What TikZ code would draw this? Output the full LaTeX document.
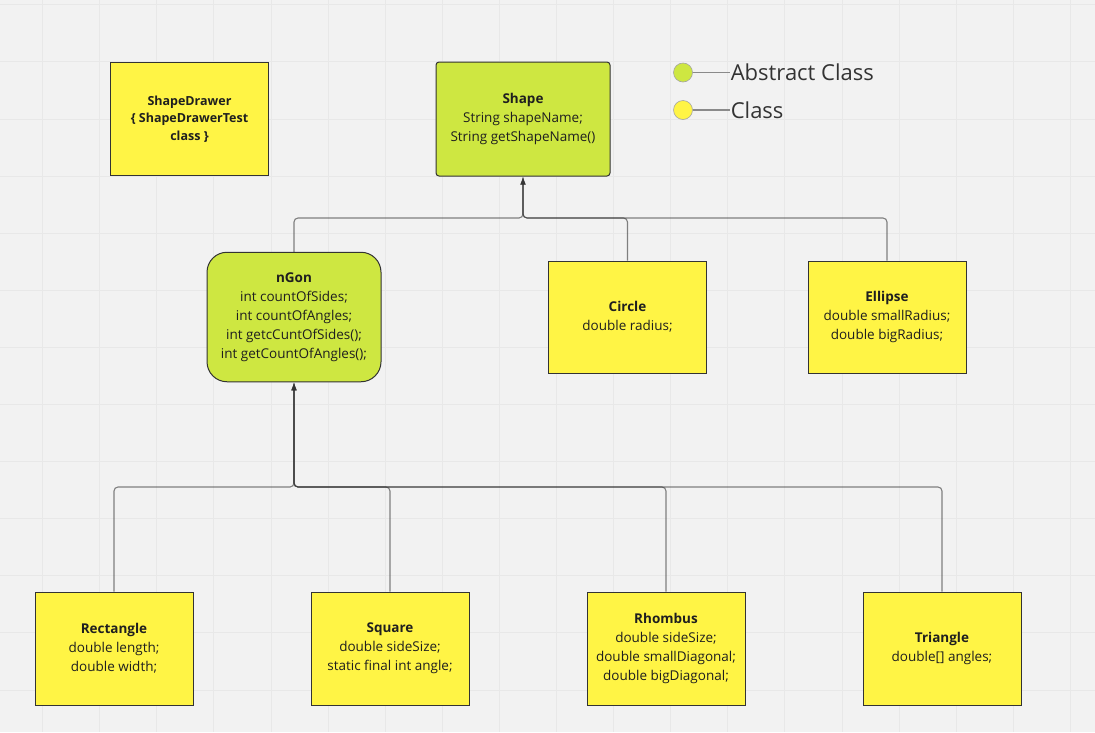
\documentclass[tikz,border=0pt]{standalone}
\usepackage{fontspec}
\setmainfont{Open Sans}
\usetikzlibrary{arrows.meta,positioning}
\definecolor{boardgray}{HTML}{F2F2F2}
\definecolor{gridgray}{HTML}{E8E8E8}
\definecolor{classyellow}{HTML}{FFF445}
\definecolor{abstractgreen}{HTML}{CEE741}
\definecolor{edgegray}{HTML}{333333}
\definecolor{inkgray}{HTML}{1F1F1F}
\definecolor{legendgray}{HTML}{8A8A8A}

\begin{document}
\begin{tikzpicture}[
  x=1pt, y=-1pt,
  >={Latex[length=8pt,width=5.5pt]},
  line width=1pt,
  classbox/.style={rectangle, draw=edgegray, fill=classyellow, minimum width=158pt, minimum height=113pt, align=center, text=inkgray, font=\fontsize{13.5}{19}\selectfont},
  abstractbox/.style={classbox, fill=abstractgreen, minimum width=174pt},
  link/.style={->, draw=edgegray, opacity=0.6, line width=1.1pt, rounded corners=4pt},
  legdot/.style={circle, draw=edgegray!45, line width=0.6pt, minimum size=19pt, inner sep=0pt},
  legtext/.style={inner sep=0pt, text=edgegray, font=\fontsize{22}{26}\selectfont},
  legline/.style={draw=legendgray, line width=1.3pt},
  gridline/.style={draw=gridgray, line width=0.8pt}
]
  % board and grid
  \fill[boardgray] (0,0) rectangle (1095,732);
  \useasboundingbox (0,0) rectangle (1095,732);
  \foreach \gx in {1,...,19} \draw[gridline] ({-14.6+57.1*\gx},0) -- ({-14.6+57.1*\gx},732);
  \foreach \gy in {0,...,12} \draw[gridline] (0,{4.7+57.1*\gy}) -- (1095,{4.7+57.1*\gy});

  % top row
  \node[classbox, minimum height=112.5pt, font=\bfseries\fontsize{12.5}{17.5}\selectfont] (drawercls) at (189.5,119) {ShapeDrawer\\\{ ShapeDrawerTest\\class \}};
  \node[abstractbox, minimum height=114pt, rounded corners=3pt] (shapecls) at (523,119) {\textbf{Shape}\\String shapeName;\\String getShapeName()};

  % legend
  \node[legdot, fill=abstractgreen] (absdot) at (683,72.5) {};
  \node[legtext, right=37.5pt of absdot] (abslabel) {Abstract Class};
  \node[legdot, fill=classyellow] (clsdot) at (683,110) {};
  \node[legtext, right=37.5pt of clsdot] (clslabel) {Class};
  \draw[legline] (absdot) -- (abslabel);
  \draw[legline] (clsdot) -- (clslabel);

  % middle row
  \node[abstractbox, minimum height=129.5pt, rounded corners=20pt] (ngoncls) at (294,317) {\textbf{nGon}\\int countOfSides;\\int countOfAngles;\\int getcCuntOfSides();\\int getCountOfAngles();};
  \node[classbox, minimum height=112pt] (circlecls) at (627.5,317) {\textbf{Circle}\\double radius;};
  \node[classbox, minimum height=112pt] (ellipsecls) at (887,317) {\textbf{Ellipse}\\double smallRadius;\\double bigRadius;};

  % bottom row
  \node[classbox] (rectcls) at (114,648.5) {\textbf{Rectangle}\\double length;\\double width;};
  \node[classbox, right=117pt of rectcls] (squarecls) {\textbf{Square}\\double sideSize;\\static final int angle;};
  \node[classbox, right=117pt of squarecls] (rhombuscls) {\textbf{Rhombus}\\double sideSize;\\double smallDiagonal;\\double bigDiagonal;};
  \node[classbox, right=117pt of rhombuscls] (trianglecls) {\textbf{Triangle}\\double[] angles;};

  % inheritance
  \coordinate (topbus) at (523,218);
  \coordinate (lowbus) at (294,487);
  \draw[link] (ngoncls.north) |- (topbus) -- (shapecls.south);
  \draw[link] (circlecls.north) |- (topbus) -- (shapecls.south);
  \draw[link] (ellipsecls.north) |- (topbus) -- (shapecls.south);
  \draw[link] (rectcls.north) |- (lowbus) -- (ngoncls.south);
  \draw[link] (squarecls.north) |- (lowbus) -- (ngoncls.south);
  \draw[link] (rhombuscls.north) |- (lowbus) -- (ngoncls.south);
  \draw[link] (trianglecls.north) |- (lowbus) -- (ngoncls.south);
\end{tikzpicture}
\end{document}
